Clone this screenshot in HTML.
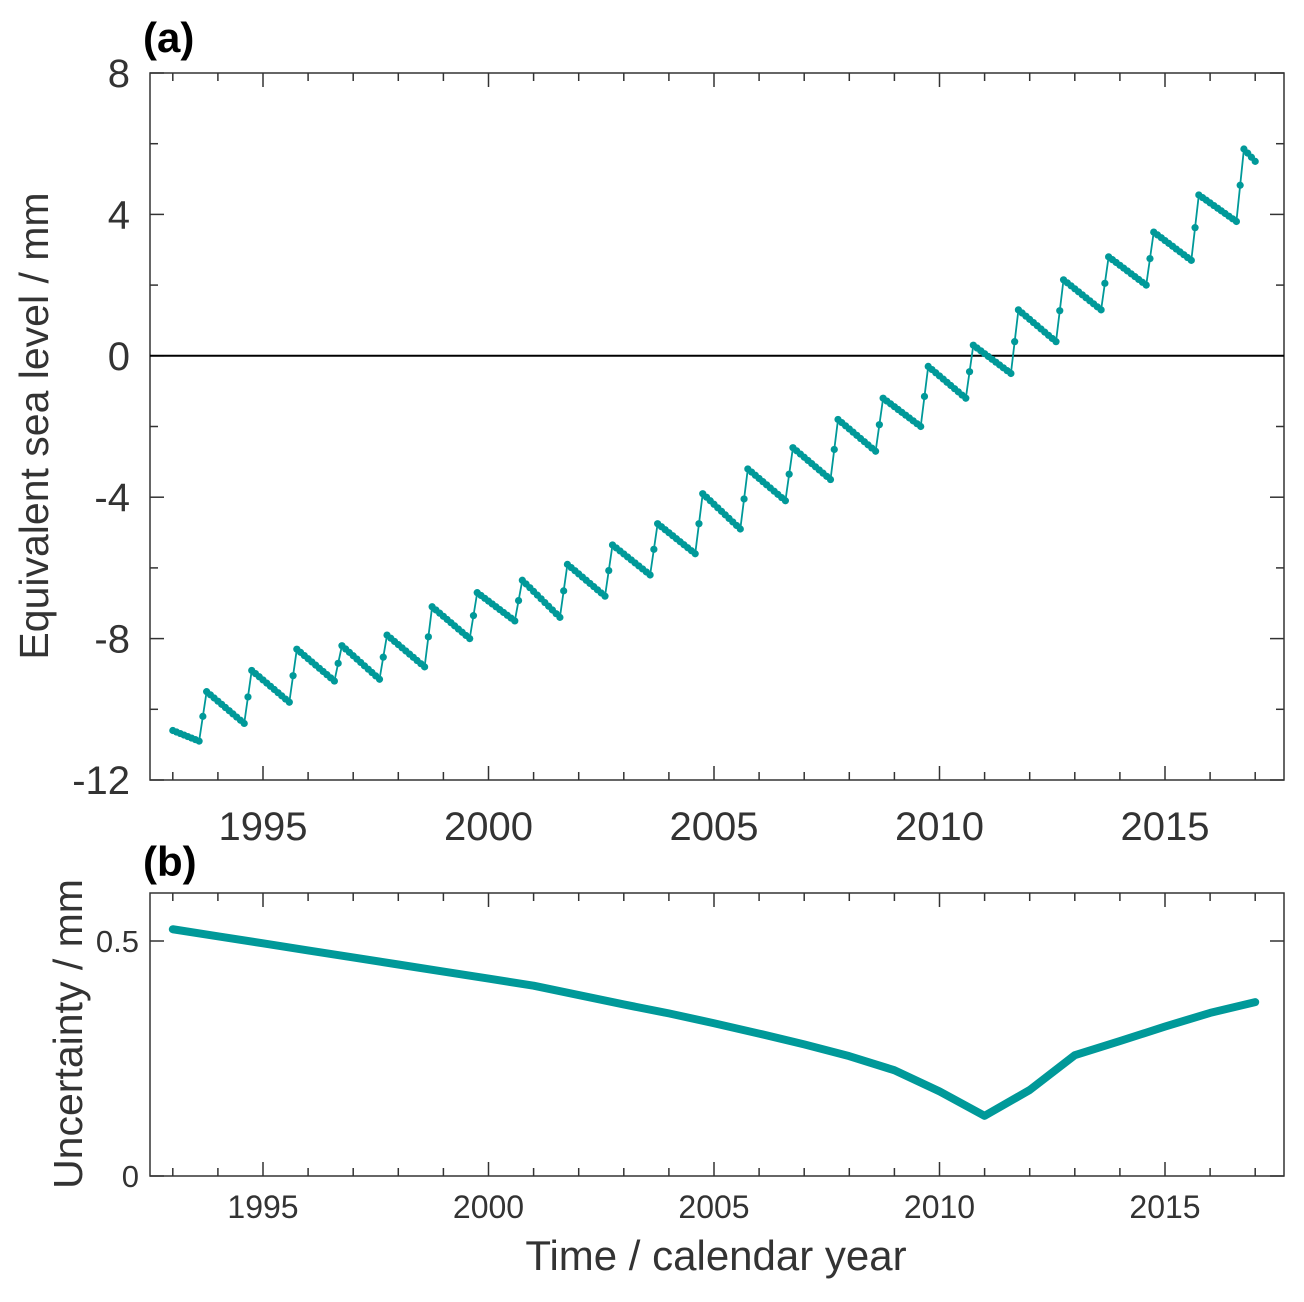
<!DOCTYPE html>
<html><head><meta charset="utf-8"><style>
body{margin:0;background:#fff;}
svg text{font-family:"Liberation Sans",Arial,sans-serif;fill:#333;}
</style></head><body>
<svg id="chart" width="1304" height="1297" viewBox="0 0 1304 1297" xmlns="http://www.w3.org/2000/svg"></svg>
<script>
// Panel (a) data
const peakYears = [1993,1994,1995,1996,1997,1998,1999,2000,2001,2002,2003,2004,2005,2006,2007,2008,2009,2010,2011,2012,2013,2014,2015,2016];
const peakValues = [-9.5,-8.9,-8.3,-8.2,-7.9,-7.1,-6.7,-6.35,-5.9,-5.35,-4.75,-3.9,-3.2,-2.6,-1.8,-1.2,-0.3,0.3,1.3,2.15,2.8,3.5,4.55,5.85];
const troughValues = [-10.9,-10.4,-9.8,-9.2,-9.15,-8.8,-8.0,-7.5,-7.4,-6.8,-6.2,-5.6,-4.9,-4.1,-3.5,-2.7,-2.0,-1.2,-0.5,0.4,1.3,2.0,2.7,3.8];
const startValue = -10.6;
const endValue = 5.5;
const yTicksA = [8,4,0,-4,-8,-12];
const xTickLabels = [1995,2000,2005,2010,2015];
// Panel (b) data
const uncYears = [1993,1994,1995,1996,1997,1998,1999,2000,2001,2002,2003,2004,2005,2006,2007,2008,2009,2010,2011,2012,2013,2014,2015,2016,2017];
const uncValues = [0.525,0.51,0.495,0.48,0.465,0.45,0.435,0.42,0.405,0.385,0.365,0.346,0.325,0.303,0.28,0.255,0.225,0.18,0.128,0.183,0.257,0.287,0.318,0.347,0.37];
const yTicksB = [0,0.5];

const NS="http://www.w3.org/2000/svg";
const svg=document.getElementById('chart');
function el(tag,attrs,parent){const e=document.createElementNS(NS,tag);for(const k in attrs)e.setAttribute(k,attrs[k]);(parent||svg).appendChild(e);return e;}
const X0=150,X1=1284;
const xs=t=>263+(t-1995)*45.1;
const yA=v=>355.8-v*35.35;
const yB=v=>1176-v*470;
const teal="#009999", axc="#333";

// ---- Panel A ----
const gA=el('g',{});


const fA=el('rect',{x:X0,y:73,width:X1-X0,height:707,fill:'none',stroke:axc,'stroke-width':1.5},gA);


for(let yr=1993;yr<=2017;yr++){
  const x=xs(yr),len=yr%5===0?14:8;
  el('line',{x1:x,y1:780,x2:x,y2:780-len,stroke:axc,'stroke-width':1.5},gA);
  el('line',{x1:x,y1:73,x2:x,y2:73+len,stroke:axc,'stroke-width':1.5},gA);
}
for(let v=-12;v<=8;v+=2){
  const y=yA(v),len=v%4===0?14:8;
  el('line',{x1:X0,y1:y,x2:X0+len,y2:y,stroke:axc,'stroke-width':1.5},gA);
  el('line',{x1:X1,y1:y,x2:X1-len,y2:y,stroke:axc,'stroke-width':1.5},gA);
}
yTicksA.forEach(v=>{const t=el('text',{x:130,y:yA(v)+14,'font-size':40,'text-anchor':'end'},gA);t.textContent=v;

});
xTickLabels.forEach(v=>{const t=el('text',{x:xs(v),y:840,'font-size':40,'text-anchor':'middle'},gA);t.textContent=v;

});
const zl=el('line',{x1:X0,x2:X1,y1:yA(0),y2:yA(0),stroke:'#000','stroke-width':2},gA);


const ya=el('text',{x:0,y:0,'font-size':41,'text-anchor':'middle',transform:'translate(48,426) rotate(-90)'},gA);
ya.textContent='Equivalent sea level / mm';


const la=el('text',{x:143,y:52,'font-size':42,'font-weight':'bold',style:'fill:#000'},gA);la.textContent='(a)';



const keys=[[1993,startValue]];
peakYears.forEach((yr,i)=>{keys.push([yr+7/12,troughValues[i]]);keys.push([yr+9/12,peakValues[i]]);});
keys.push([2017,endValue]);
function valAt(t){for(let i=0;i<keys.length-1;i++){const a=keys[i],b=keys[i+1];if(t>=a[0]-1e-9&&t<=b[0]+1e-9){return a[1]+(b[1]-a[1])*(t-a[0])/(b[0]-a[0]);}}return endValue;}
const pts=[];
for(let m=0;m<=288;m++){const t=1993+m/12;pts.push([xs(t),yA(valAt(t))]);}
const ln=el('polyline',{points:pts.map(p=>p.join(',')).join(' '),fill:'none',stroke:teal,'stroke-width':1.8},gA);


pts.forEach(p=>{const c=el('circle',{cx:p[0],cy:p[1],r:3.6,fill:teal},gA);

});

// ---- Panel B ----
const gB=el('g',{});


const fB=el('rect',{x:X0,y:893,width:X1-X0,height:283,fill:'none',stroke:axc,'stroke-width':1.5},gB);


for(let yr=1993;yr<=2017;yr++){
  const x=xs(yr),len=yr%5===0?14:8;
  el('line',{x1:x,y1:1176,x2:x,y2:1176-len,stroke:axc,'stroke-width':1.5},gB);
  el('line',{x1:x,y1:893,x2:x,y2:893+len,stroke:axc,'stroke-width':1.5},gB);
}
[0,0.5].forEach(v=>{const y=yB(v);
  el('line',{x1:X0,y1:y,x2:X0+14,y2:y,stroke:axc,'stroke-width':1.5},gB);
  el('line',{x1:X1,y1:y,x2:X1-14,y2:y,stroke:axc,'stroke-width':1.5},gB);});
yTicksB.forEach(v=>{const t=el('text',{x:139,y:yB(v)+11,'font-size':31,'text-anchor':'end'},gB);t.textContent=v;

});
xTickLabels.forEach(v=>{const t=el('text',{x:xs(v),y:1218,'font-size':32,'text-anchor':'middle'},gB);t.textContent=v;

});
const yb=el('text',{x:0,y:0,'font-size':41,'text-anchor':'middle',transform:'translate(82,1034) rotate(-90)'},gB);
yb.textContent='Uncertainty / mm';


const xb=el('text',{x:716,y:1270,'font-size':42,'text-anchor':'middle'},gB);
xb.textContent='Time / calendar year';


const lb=el('text',{x:143,y:876,'font-size':42,'font-weight':'bold',style:'fill:#000'},gB);lb.textContent='(b)';


const ul=el('polyline',{points:uncYears.map((yr,i)=>xs(yr)+','+yB(uncValues[i])).join(' '),fill:'none',stroke:teal,'stroke-width':8,'stroke-linejoin':'round','stroke-linecap':'round'},gB);


</script>
</body></html>
